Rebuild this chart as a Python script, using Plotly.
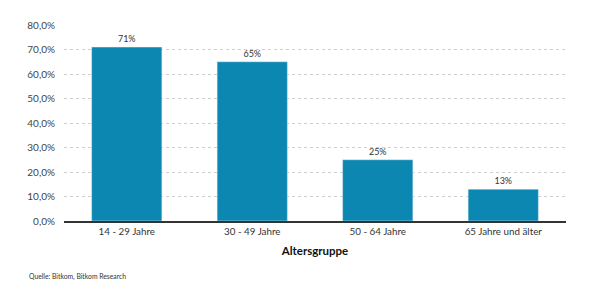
import plotly.graph_objects as go

categories = ["14 - 29 Jahre", "30 - 49 Jahre", "50 - 64 Jahre", "65 Jahre und älter"]
values = [71, 65, 25, 13]
labels = ["71%", "65%", "25%", "13%"]
y_ticks = [0, 10, 20, 30, 40, 50, 60, 70, 80]
y_tick_text = ["0,0%", "10,0%", "20,0%", "30,0%", "40,0%", "50,0%", "60,0%", "70,0%", "80,0%"]

fig = go.Figure(go.Bar(
    x=categories, y=values, text=labels, textposition="outside",
    textfont=dict(size=9, color="#333333"), cliponaxis=False,
    marker=dict(color="#0b87b1"), width=0.56,
))

fig.update_layout(
    width=600, height=300,
    margin=dict(l=64, r=34, t=25, b=79),
    paper_bgcolor="white", plot_bgcolor="white",
    font=dict(family="Lato, sans-serif", color="#333333"),
    showlegend=False,
    xaxis=dict(
        showline=True, linecolor="#333333", linewidth=1.5,
        tickfont=dict(size=9.8, color="#333333"),
        title=dict(text="<b>Altersgruppe</b>", font=dict(size=11.5, color="#111111"), standoff=11),
        ticks="",
    ),
    yaxis=dict(
        range=[0, 80], tickvals=y_ticks, ticktext=y_tick_text,
        showgrid=True, gridcolor="#cfcfcf", griddash="dot", gridwidth=0.7,
        zeroline=False, tickfont=dict(size=10, color="#444444"),
        ticks="", ticklabelstandoff=8,
    ),
    annotations=[dict(
        text="Quelle: Bitkom, Bitkom Research", xref="paper", yref="paper",
        x=-0.074, y=-0.285, xanchor="left", yanchor="middle", showarrow=False,
        font=dict(size=6.8, color="#333333"),
    )],
)

fig.write_html("out.html")
